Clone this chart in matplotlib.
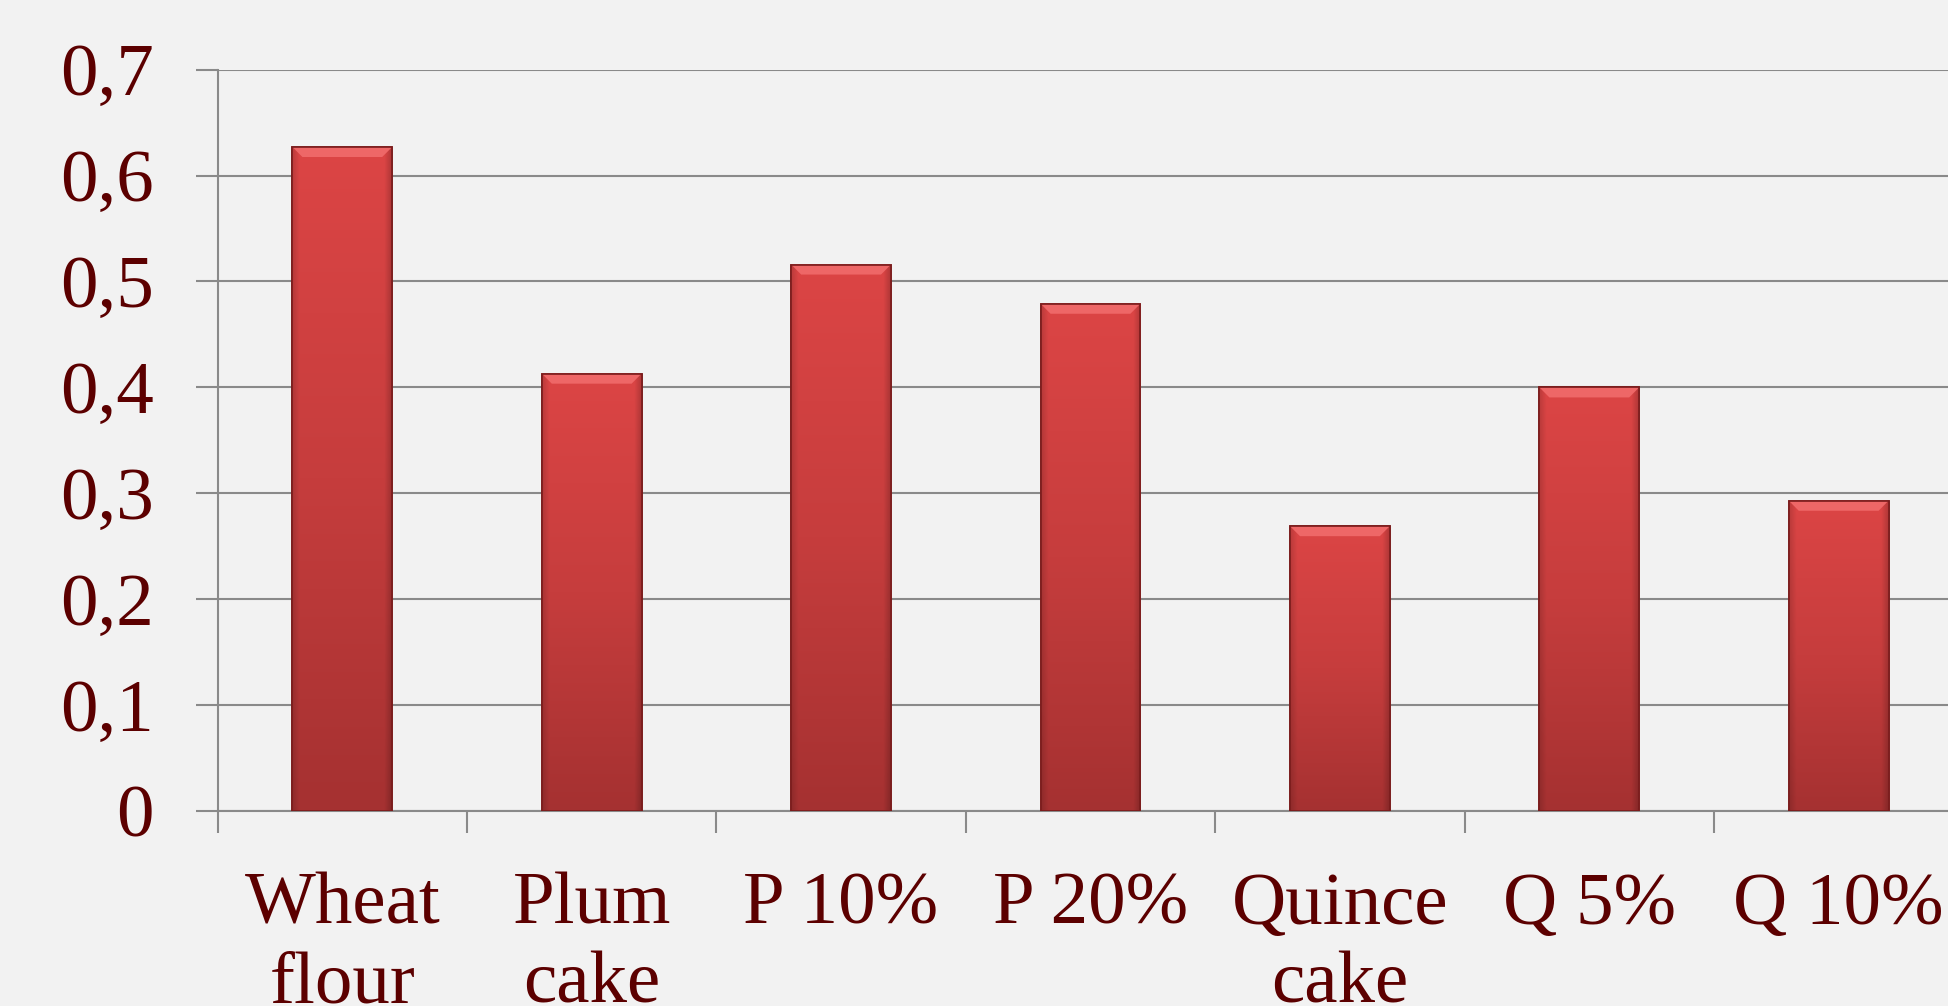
import numpy as np
import matplotlib.pyplot as plt
from matplotlib.patches import Polygon
from matplotlib.colors import LinearSegmentedColormap

# Values per sample
samples = ["Wheat\nflour", "Plum\ncake", "P 10%", "P 20%", "Quince\ncake", "Q 5%", "Q 10%"]
values = [0.627, 0.413, 0.516, 0.479, 0.269, 0.400, 0.293]
y_ticks = [0, 0.1, 0.2, 0.3, 0.4, 0.5, 0.6, 0.7]
y_labels = ["0", "0,1", "0,2", "0,3", "0,4", "0,5", "0,6", "0,7"]

text_color = "#5c0000"
grid_color = "#8a8a8a"
bg = "#f2f2f2"

fig = plt.figure(figsize=(19.48, 10.06), dpi=100, facecolor=bg)
ax = fig.add_axes([0.1117, 0.1938, 0.8962, 0.737], facecolor=bg)

x = np.arange(len(values))
bar_w = 0.4
bars = ax.bar(x, values, width=bar_w, color="#cf3e3e", edgecolor="#7a1c1c",
              linewidth=1.2, zorder=3)

# vertical gradient inside each bar, plus a lighter bevel along the top
grad_cmap = LinearSegmentedColormap.from_list("bar", ["#a53131", "#c63d3d", "#dc4545"])
grad = np.linspace(0, 1, 256).reshape(-1, 1)
side = np.concatenate([np.linspace(0.85, 1, 20), np.ones(216), np.linspace(1, 0.8, 20)])
for b in bars:
    x0, w, h = b.get_x(), b.get_width(), b.get_height()
    img = grad_cmap(grad)[:, :, :3] * side[None, :, None]
    im = ax.imshow(img, extent=[x0, x0 + w, 0, h], origin="lower",
                   aspect="auto", zorder=3.5, interpolation="bilinear")
    im.set_clip_path(b)
    bx, by = 0.04, 0.0095
    top = Polygon([[x0, h], [x0 + w, h], [x0 + w - bx, h - by], [x0 + bx, h - by]],
                  closed=True, facecolor="#ee6767", edgecolor="none", zorder=4)
    ax.add_patch(top)
    ax.add_patch(Polygon([[x0, h], [x0 + w, h], [x0 + w, 0], [x0, 0]], closed=True,
                         facecolor="none", edgecolor="#7a1c1c", linewidth=1.2, zorder=5))

ax.set_xlim(-0.5, len(values) - 0.5)
ax.set_ylim(0, 0.7)

ax.set_yticks(y_ticks)
ax.set_yticklabels(y_labels)
ax.yaxis.grid(True, color=grid_color, linewidth=1.5, zorder=0)
ax.set_axisbelow(True)

ax.set_xticks(x)
ax.set_xticklabels(samples, linespacing=1.22)
ax.set_xticks(np.arange(-0.5, len(values), 1.0), minor=True)
ax.tick_params(axis="x", which="major", length=0, pad=44)
ax.tick_params(axis="x", which="minor", length=16, width=1.5, color=grid_color)
ax.tick_params(axis="y", length=16, width=1.5, color=grid_color, pad=30)

for lbl in ax.get_xticklabels() + ax.get_yticklabels():
    lbl.set_fontfamily("Liberation Serif")
    lbl.set_fontsize(54)
    lbl.set_color(text_color)
for lbl in ax.get_xticklabels():
    lbl.set_verticalalignment("top")

for s in ["top", "right"]:
    ax.spines[s].set_visible(False)
for s in ["left", "bottom"]:
    ax.spines[s].set_color(grid_color)
    ax.spines[s].set_linewidth(1.5)

fig.savefig("out.png", dpi=100, facecolor=bg)
